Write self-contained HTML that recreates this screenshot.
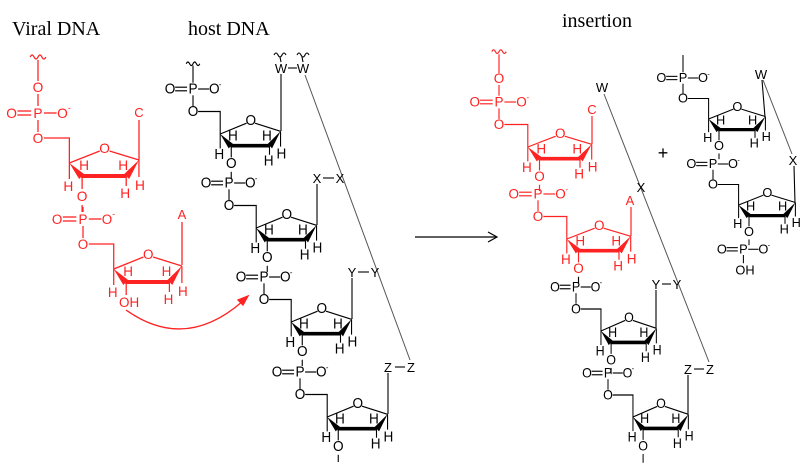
<!DOCTYPE html>
<html><head><meta charset="utf-8"><style>
html,body{margin:0;padding:0;background:#fff;}
svg{display:block;font-family:"Liberation Sans",sans-serif;}
.u text{font-size:14px;text-anchor:middle;}
.u.b text{font-size:16px;}
.u.c text{font-size:15px;}
.u line,.u polyline,.u path{fill:none;stroke-width:1.3;}
.u text.s{font-size:9px;}
.t{font-family:"Liberation Serif",serif;font-size:20px;}
.lab{font-size:13px;text-anchor:middle;}
</style></head><body>
<svg width="800" height="468" viewBox="0 0 800 468">
<text class="t" x="12" y="35">Viral DNA</text>
<text class="t" x="188" y="35">host DNA</text>
<text class="t" x="562" y="27">insertion</text>

<!-- VIRAL 1 -->
<g class="u" transform="translate(38,113) scale(.98,1)" stroke="#f22" fill="#f22">
<path d="M-8,-56 q2,-4 4,0 t4,0 t4,0 t4,0"/>
<line x1="0" y1="-53" x2="0" y2="-32"/><text x="0" y="-21" stroke="none">O</text><line x1="0" y1="-19" x2="0" y2="-7"/>
<line x1="-21" y1="-2" x2="-7" y2="-2"/><line x1="-21" y1="2" x2="-7" y2="2"/><line x1="6" y1="0" x2="19" y2="0"/><line x1="0" y1="7" x2="0" y2="19"/>
<text x="-27" y="5" stroke="none">O</text><text x="0" y="5" stroke="none">P</text><text x="25" y="5" stroke="none">O</text><text class="s" x="32" y="-2" stroke="none">-</text>
<text x="0" y="30" stroke="none">O</text>
<polyline points="6,25 32,25 32,50"/><line x1="32" y1="50" x2="63" y2="38"/><line x1="73" y1="38" x2="103" y2="47"/><text x="68" y="40" stroke="none">O</text>
<polygon points="32,50 47,61 42,66" stroke="none"/><line x1="44" y1="63" x2="90" y2="63" style="stroke-width:4"/><polygon points="103,47 88,61 93,66" stroke="none"/>
<line x1="32" y1="50" x2="32" y2="66"/><line x1="103" y1="47" x2="103" y2="64"/><line x1="90" y1="63" x2="90" y2="73"/><line x1="45" y1="63" x2="45" y2="76"/>
<text x="47" y="57" stroke="none">H</text><text x="31" y="78" stroke="none">H</text><text x="87" y="57" stroke="none">H</text><text x="89" y="85" stroke="none">H</text><text x="104" y="77" stroke="none">H</text><text x="45" y="88" stroke="none">O</text>
<line x1="45" y1="92" x2="45" y2="99"/>
</g>
<!-- VIRAL 2 -->
<g class="u" transform="translate(83,219) scale(.96,1)" stroke="#f22" fill="#f22">
<line x1="0" y1="-12" x2="0" y2="-7"/>
<line x1="-21" y1="-2" x2="-7" y2="-2"/><line x1="-21" y1="2" x2="-7" y2="2"/><line x1="6" y1="0" x2="19" y2="0"/><line x1="0" y1="7" x2="0" y2="19"/>
<text x="-27" y="5" stroke="none">O</text><text x="0" y="5" stroke="none">P</text><text x="25" y="5" stroke="none">O</text><text class="s" x="32" y="-2" stroke="none">-</text>
<text x="0" y="30" stroke="none">O</text>
<polyline points="6,25 32,25 32,50"/><line x1="32" y1="50" x2="63" y2="38"/><line x1="73" y1="38" x2="103" y2="47"/><text x="68" y="40" stroke="none">O</text>
<polygon points="32,50 47,61 42,66" stroke="none"/><line x1="44" y1="63" x2="90" y2="63" style="stroke-width:4"/><polygon points="103,47 88,61 93,66" stroke="none"/>
<line x1="32" y1="50" x2="32" y2="66"/><line x1="103" y1="47" x2="103" y2="64"/><line x1="90" y1="63" x2="90" y2="73"/><line x1="45" y1="63" x2="45" y2="76"/>
<text x="47" y="57" stroke="none">H</text><text x="31" y="78" stroke="none">H</text><text x="87" y="57" stroke="none">H</text><text x="89" y="85" stroke="none">H</text><text x="104" y="77" stroke="none">H</text><text x="48" y="88" stroke="none">OH</text>
</g>
<g stroke="#f22" stroke-width="1.3" fill="#f22">
<line x1="139" y1="160" x2="139" y2="120"/><line x1="182" y1="265" x2="182" y2="222"/>
<path d="M126,310 Q185,352 243,301" fill="none"/>
<polygon points="248,296 238,300 243,305"/>
</g>
<g fill="#f22" class="lab"><text x="139" y="117">C</text><text x="182" y="219">A</text></g>

<!-- HOST -->
<g class="u b" transform="translate(193,89) scale(.85,.9)" stroke="#000" fill="#000">
<path d="M-8,-28 q2,-4 4,0 t4,0 t4,0 t4,0"/><line x1="0" y1="-26" x2="0" y2="-7"/>
<line x1="-21" y1="-2" x2="-7" y2="-2"/><line x1="-21" y1="2" x2="-7" y2="2"/><line x1="6" y1="0" x2="19" y2="0"/><line x1="0" y1="7" x2="0" y2="19"/>
<text x="-27" y="5" stroke="none">O</text><text x="0" y="5" stroke="none">P</text><text x="25" y="5" stroke="none">O</text><text class="s" x="32" y="-2" stroke="none">-</text>
<text x="0" y="30" stroke="none">O</text>
<polyline points="6,25 32,25 32,50"/><line x1="32" y1="50" x2="63" y2="38"/><line x1="73" y1="38" x2="103" y2="47"/><text x="68" y="40" stroke="none">O</text>
<polygon points="32,50 47,61 42,66" stroke="none"/><line x1="44" y1="63" x2="90" y2="63" style="stroke-width:4"/><polygon points="103,47 88,61 93,66" stroke="none"/>
<line x1="32" y1="50" x2="32" y2="66"/><line x1="103" y1="47" x2="103" y2="64"/><line x1="90" y1="63" x2="90" y2="73"/><line x1="45" y1="63" x2="45" y2="76"/>
<text x="47" y="57" stroke="none">H</text><text x="31" y="78" stroke="none">H</text><text x="87" y="57" stroke="none">H</text><text x="89" y="85" stroke="none">H</text><text x="104" y="77" stroke="none">H</text><text x="45" y="88" stroke="none">O</text>
<line x1="45" y1="92" x2="45" y2="99"/>
</g>
<g class="u b" transform="translate(229,183) scale(.85,.9)" stroke="#000" fill="#000">
<line x1="-21" y1="-2" x2="-7" y2="-2"/><line x1="-21" y1="2" x2="-7" y2="2"/><line x1="6" y1="0" x2="19" y2="0"/><line x1="0" y1="7" x2="0" y2="19"/>
<text x="-27" y="5" stroke="none">O</text><text x="0" y="5" stroke="none">P</text><text x="25" y="5" stroke="none">O</text><text class="s" x="32" y="-2" stroke="none">-</text>
<text x="0" y="30" stroke="none">O</text>
<polyline points="6,25 32,25 32,50"/><line x1="32" y1="50" x2="63" y2="38"/><line x1="73" y1="38" x2="103" y2="47"/><text x="68" y="40" stroke="none">O</text>
<polygon points="32,50 47,61 42,66" stroke="none"/><line x1="44" y1="63" x2="90" y2="63" style="stroke-width:4"/><polygon points="103,47 88,61 93,66" stroke="none"/>
<line x1="32" y1="50" x2="32" y2="66"/><line x1="103" y1="47" x2="103" y2="64"/><line x1="90" y1="63" x2="90" y2="73"/><line x1="45" y1="63" x2="45" y2="76"/>
<text x="47" y="57" stroke="none">H</text><text x="31" y="78" stroke="none">H</text><text x="87" y="57" stroke="none">H</text><text x="89" y="85" stroke="none">H</text><text x="104" y="77" stroke="none">H</text><text x="45" y="88" stroke="none">O</text>
<line x1="45" y1="92" x2="45" y2="99"/>
</g>
<g class="u b" transform="translate(264,277) scale(.85,.9)" stroke="#000" fill="#000">
<line x1="-21" y1="-2" x2="-7" y2="-2"/><line x1="-21" y1="2" x2="-7" y2="2"/><line x1="6" y1="0" x2="19" y2="0"/><line x1="0" y1="7" x2="0" y2="19"/>
<text x="-27" y="5" stroke="none">O</text><text x="0" y="5" stroke="none">P</text><text x="25" y="5" stroke="none">O</text><text class="s" x="32" y="-2" stroke="none">-</text>
<text x="0" y="30" stroke="none">O</text>
<polyline points="6,25 32,25 32,50"/><line x1="32" y1="50" x2="63" y2="38"/><line x1="73" y1="38" x2="103" y2="47"/><text x="68" y="40" stroke="none">O</text>
<polygon points="32,50 47,61 42,66" stroke="none"/><line x1="44" y1="63" x2="90" y2="63" style="stroke-width:4"/><polygon points="103,47 88,61 93,66" stroke="none"/>
<line x1="32" y1="50" x2="32" y2="66"/><line x1="103" y1="47" x2="103" y2="64"/><line x1="90" y1="63" x2="90" y2="73"/><line x1="45" y1="63" x2="45" y2="76"/>
<text x="47" y="57" stroke="none">H</text><text x="31" y="78" stroke="none">H</text><text x="87" y="57" stroke="none">H</text><text x="89" y="85" stroke="none">H</text><text x="104" y="77" stroke="none">H</text><text x="45" y="88" stroke="none">O</text>
<line x1="45" y1="92" x2="45" y2="99"/>
</g>
<g class="u b" transform="translate(300,372) scale(.85,.9)" stroke="#000" fill="#000">
<line x1="-21" y1="-2" x2="-7" y2="-2"/><line x1="-21" y1="2" x2="-7" y2="2"/><line x1="6" y1="0" x2="19" y2="0"/><line x1="0" y1="7" x2="0" y2="19"/>
<text x="-27" y="5" stroke="none">O</text><text x="0" y="5" stroke="none">P</text><text x="25" y="5" stroke="none">O</text><text class="s" x="32" y="-2" stroke="none">-</text>
<text x="0" y="30" stroke="none">O</text>
<polyline points="6,25 32,25 32,50"/><line x1="32" y1="50" x2="63" y2="38"/><line x1="73" y1="38" x2="103" y2="47"/><text x="68" y="40" stroke="none">O</text>
<polygon points="32,50 47,61 42,66" stroke="none"/><line x1="44" y1="63" x2="90" y2="63" style="stroke-width:4"/><polygon points="103,47 88,61 93,66" stroke="none"/>
<line x1="32" y1="50" x2="32" y2="66"/><line x1="103" y1="47" x2="103" y2="64"/><line x1="90" y1="63" x2="90" y2="73"/><line x1="45" y1="63" x2="45" y2="76"/>
<text x="47" y="57" stroke="none">H</text><text x="31" y="78" stroke="none">H</text><text x="87" y="57" stroke="none">H</text><text x="89" y="85" stroke="none">H</text><text x="104" y="77" stroke="none">H</text><text x="45" y="88" stroke="none">O</text>
<line x1="45" y1="92" x2="45" y2="100"/>
</g>
<g stroke="#000" stroke-width="1.1" fill="none">
<line x1="281" y1="131" x2="281" y2="74"/><line x1="317" y1="225" x2="317" y2="184"/><line x1="352" y1="319" x2="352" y2="278"/><line x1="388" y1="414" x2="388" y2="373"/>
<line x1="288" y1="68" x2="297" y2="68"/><line x1="323" y1="178" x2="334" y2="178"/><line x1="358" y1="272" x2="369" y2="272"/><line x1="395" y1="367" x2="405" y2="367"/>
<path d="M274,55 q2,-4 4,0 t4,0 t4,0"/><path d="M297,55 q2,-4 4,0 t4,0 t4,0"/>
<line x1="280" y1="57" x2="281" y2="62"/><line x1="302" y1="57" x2="303" y2="62"/>
<line x1="305" y1="75" x2="410" y2="360" stroke="#555" stroke-width="1"/>
</g>
<g class="lab" fill="#000">
<text x="281" y="73">W</text><text x="303" y="73">W</text>
<text x="317" y="183">X</text><text x="340" y="183">X</text>
<text x="352" y="277">Y</text><text x="375" y="277">Y</text>
<text x="388" y="372">Z</text><text x="411" y="372">Z</text>
</g>

<line x1="415" y1="237" x2="496" y2="237" stroke="#000" stroke-width="1.2"/>
<polyline points="488,232 497,237 488,242" fill="none" stroke="#000" stroke-width="1.2"/>

<!-- RIGHT red -->
<g class="u c" transform="translate(499,102) scale(.9,.9)" stroke="#f22" fill="#f22">
<path d="M-8,-56 q2,-4 4,0 t4,0 t4,0 t4,0"/>
<line x1="0" y1="-53" x2="0" y2="-32"/><text x="0" y="-21" stroke="none">O</text><line x1="0" y1="-19" x2="0" y2="-7"/>
<line x1="-21" y1="-2" x2="-7" y2="-2"/><line x1="-21" y1="2" x2="-7" y2="2"/><line x1="6" y1="0" x2="19" y2="0"/><line x1="0" y1="7" x2="0" y2="19"/>
<text x="-27" y="5" stroke="none">O</text><text x="0" y="5" stroke="none">P</text><text x="25" y="5" stroke="none">O</text><text class="s" x="32" y="-2" stroke="none">-</text>
<text x="0" y="30" stroke="none">O</text>
<polyline points="6,25 32,25 32,50"/><line x1="32" y1="50" x2="63" y2="38"/><line x1="73" y1="38" x2="103" y2="47"/><text x="68" y="40" stroke="none">O</text>
<polygon points="32,50 47,61 42,66" stroke="none"/><line x1="44" y1="63" x2="90" y2="63" style="stroke-width:4"/><polygon points="103,47 88,61 93,66" stroke="none"/>
<line x1="32" y1="50" x2="32" y2="66"/><line x1="103" y1="47" x2="103" y2="64"/><line x1="90" y1="63" x2="90" y2="73"/><line x1="45" y1="63" x2="45" y2="76"/>
<text x="47" y="57" stroke="none">H</text><text x="31" y="78" stroke="none">H</text><text x="87" y="57" stroke="none">H</text><text x="89" y="85" stroke="none">H</text><text x="104" y="77" stroke="none">H</text><text x="45" y="88" stroke="none">O</text>
<line x1="45" y1="92" x2="45" y2="99"/>
</g>
<g class="u c" transform="translate(538,194) scale(.9,.9)" stroke="#f22" fill="#f22">
<line x1="-21" y1="-2" x2="-7" y2="-2"/><line x1="-21" y1="2" x2="-7" y2="2"/><line x1="6" y1="0" x2="19" y2="0"/><line x1="0" y1="7" x2="0" y2="19"/>
<text x="-27" y="5" stroke="none">O</text><text x="0" y="5" stroke="none">P</text><text x="25" y="5" stroke="none">O</text><text class="s" x="32" y="-2" stroke="none">-</text>
<text x="0" y="30" stroke="none">O</text>
<polyline points="6,25 32,25 32,50"/><line x1="32" y1="50" x2="63" y2="38"/><line x1="73" y1="38" x2="103" y2="47"/><text x="68" y="40" stroke="none">O</text>
<polygon points="32,50 47,61 42,66" stroke="none"/><line x1="44" y1="63" x2="90" y2="63" style="stroke-width:4"/><polygon points="103,47 88,61 93,66" stroke="none"/>
<line x1="32" y1="50" x2="32" y2="66"/><line x1="103" y1="47" x2="103" y2="64"/><line x1="90" y1="63" x2="90" y2="73"/><line x1="45" y1="63" x2="45" y2="76"/>
<text x="47" y="57" stroke="none">H</text><text x="31" y="78" stroke="none">H</text><text x="87" y="57" stroke="none">H</text><text x="89" y="85" stroke="none">H</text><text x="104" y="77" stroke="none">H</text><text x="45" y="88" stroke="none">O</text>
<line x1="45" y1="92" x2="45" y2="99" stroke="#000"/>
</g>
<g class="u b" transform="translate(576,287) scale(.78,.88)" stroke="#000" fill="#000">
<line x1="-21" y1="-2" x2="-7" y2="-2"/><line x1="-21" y1="2" x2="-7" y2="2"/><line x1="6" y1="0" x2="19" y2="0"/><line x1="0" y1="7" x2="0" y2="19"/>
<text x="-27" y="5" stroke="none">O</text><text x="0" y="5" stroke="none">P</text><text x="25" y="5" stroke="none">O</text><text class="s" x="32" y="-2" stroke="none">-</text>
<text x="0" y="30" stroke="none">O</text>
<polyline points="6,25 32,25 32,50"/><line x1="32" y1="50" x2="63" y2="38"/><line x1="73" y1="38" x2="103" y2="47"/><text x="68" y="40" stroke="none">O</text>
<polygon points="32,50 47,61 42,66" stroke="none"/><line x1="44" y1="63" x2="90" y2="63" style="stroke-width:4"/><polygon points="103,47 88,61 93,66" stroke="none"/>
<line x1="32" y1="50" x2="32" y2="66"/><line x1="103" y1="47" x2="103" y2="64"/><line x1="90" y1="63" x2="90" y2="73"/><line x1="45" y1="63" x2="45" y2="76"/>
<text x="47" y="57" stroke="none">H</text><text x="31" y="78" stroke="none">H</text><text x="87" y="57" stroke="none">H</text><text x="89" y="85" stroke="none">H</text><text x="104" y="77" stroke="none">H</text><text x="45" y="88" stroke="none">O</text>
<line x1="45" y1="92" x2="45" y2="99"/>
</g>
<g class="u b" transform="translate(608,373) scale(.78,.88)" stroke="#000" fill="#000">
<line x1="-21" y1="-2" x2="-7" y2="-2"/><line x1="-21" y1="2" x2="-7" y2="2"/><line x1="6" y1="0" x2="19" y2="0"/><line x1="0" y1="7" x2="0" y2="19"/>
<text x="-27" y="5" stroke="none">O</text><text x="0" y="5" stroke="none">P</text><text x="25" y="5" stroke="none">O</text><text class="s" x="32" y="-2" stroke="none">-</text>
<text x="0" y="30" stroke="none">O</text>
<polyline points="6,25 32,25 32,50"/><line x1="32" y1="50" x2="63" y2="38"/><line x1="73" y1="38" x2="103" y2="47"/><text x="68" y="40" stroke="none">O</text>
<polygon points="32,50 47,61 42,66" stroke="none"/><line x1="44" y1="63" x2="90" y2="63" style="stroke-width:4"/><polygon points="103,47 88,61 93,66" stroke="none"/>
<line x1="32" y1="50" x2="32" y2="66"/><line x1="103" y1="47" x2="103" y2="64"/><line x1="90" y1="63" x2="90" y2="73"/><line x1="45" y1="63" x2="45" y2="76"/>
<text x="47" y="57" stroke="none">H</text><text x="31" y="78" stroke="none">H</text><text x="87" y="57" stroke="none">H</text><text x="89" y="85" stroke="none">H</text><text x="104" y="77" stroke="none">H</text><text x="45" y="88" stroke="none">O</text>
<line x1="45" y1="92" x2="45" y2="102"/>
</g>
<!-- small right piece -->
<g class="u b" transform="translate(683,78) scale(.8,.82)" stroke="#000" fill="#000">
<line x1="0" y1="-28" x2="0" y2="-7"/>
<line x1="-21" y1="-2" x2="-7" y2="-2"/><line x1="-21" y1="2" x2="-7" y2="2"/><line x1="6" y1="0" x2="19" y2="0"/><line x1="0" y1="7" x2="0" y2="19"/>
<text x="-27" y="5" stroke="none">O</text><text x="0" y="5" stroke="none">P</text><text x="25" y="5" stroke="none">O</text><text class="s" x="32" y="-2" stroke="none">-</text>
<text x="0" y="30" stroke="none">O</text>
<polyline points="6,25 32,25 32,50"/><line x1="32" y1="50" x2="63" y2="38"/><line x1="73" y1="38" x2="103" y2="47"/><text x="68" y="40" stroke="none">O</text>
<polygon points="32,50 47,61 42,66" stroke="none"/><line x1="44" y1="63" x2="90" y2="63" style="stroke-width:4"/><polygon points="103,47 88,61 93,66" stroke="none"/>
<line x1="32" y1="50" x2="32" y2="66"/><line x1="103" y1="47" x2="103" y2="64"/><line x1="90" y1="63" x2="90" y2="73"/><line x1="45" y1="63" x2="45" y2="76"/>
<text x="47" y="57" stroke="none">H</text><text x="31" y="78" stroke="none">H</text><text x="87" y="57" stroke="none">H</text><text x="89" y="85" stroke="none">H</text><text x="104" y="77" stroke="none">H</text><text x="45" y="88" stroke="none">O</text>
<line x1="45" y1="92" x2="45" y2="99"/>
</g>
<g class="u b" transform="translate(713,164) scale(.8,.82)" stroke="#000" fill="#000">
<line x1="-21" y1="-2" x2="-7" y2="-2"/><line x1="-21" y1="2" x2="-7" y2="2"/><line x1="6" y1="0" x2="19" y2="0"/><line x1="0" y1="7" x2="0" y2="19"/>
<text x="-27" y="5" stroke="none">O</text><text x="0" y="5" stroke="none">P</text><text x="25" y="5" stroke="none">O</text><text class="s" x="32" y="-2" stroke="none">-</text>
<text x="0" y="30" stroke="none">O</text>
<polyline points="6,25 32,25 32,50"/><line x1="32" y1="50" x2="63" y2="38"/><line x1="73" y1="38" x2="103" y2="47"/><text x="68" y="40" stroke="none">O</text>
<polygon points="32,50 47,61 42,66" stroke="none"/><line x1="44" y1="63" x2="90" y2="63" style="stroke-width:4"/><polygon points="103,47 88,61 93,66" stroke="none"/>
<line x1="32" y1="50" x2="32" y2="66"/><line x1="103" y1="47" x2="103" y2="64"/><line x1="90" y1="63" x2="90" y2="73"/><line x1="45" y1="63" x2="45" y2="76"/>
<text x="47" y="57" stroke="none">H</text><text x="31" y="78" stroke="none">H</text><text x="87" y="57" stroke="none">H</text><text x="89" y="85" stroke="none">H</text><text x="104" y="77" stroke="none">H</text><text x="45" y="88" stroke="none">O</text>
<line x1="45" y1="92" x2="45" y2="99"/>
<g transform="translate(38,104)">
<line x1="-21" y1="-2" x2="-7" y2="-2"/><line x1="-21" y1="2" x2="-7" y2="2"/><line x1="6" y1="0" x2="19" y2="0"/><line x1="0" y1="7" x2="0" y2="17"/>
<text x="-27" y="5" stroke="none">O</text><text x="0" y="5" stroke="none">P</text><text x="25" y="5" stroke="none">O</text><text class="s" x="32" y="-2" stroke="none">-</text>
<text x="2" y="31" stroke="none">OH</text>
</g>
</g>
<g stroke="#f22" stroke-width="1.2"><line x1="592" y1="144" x2="592" y2="116"/><line x1="631" y1="236" x2="631" y2="207"/></g>
<g class="lab" fill="#f22"><text x="592" y="114">C</text><text x="630" y="205">A</text></g>
<g stroke="#000" stroke-width="1.1" fill="none">
<line x1="656" y1="328" x2="656" y2="290"/><line x1="688" y1="414" x2="688" y2="375"/>
<line x1="662" y1="284" x2="671" y2="284"/><line x1="694" y1="369" x2="704" y2="369"/>
<line x1="765" y1="117" x2="762" y2="80"/><line x1="795" y1="203" x2="794" y2="166"/>
<line x1="604" y1="94" x2="709" y2="362" stroke="#555" stroke-width="1"/>
<line x1="763" y1="80" x2="792" y2="154" stroke="#555" stroke-width="1"/>
</g>
<g class="lab" fill="#000">
<text x="602" y="92">W</text><text x="641" y="192">X</text>
<text x="656" y="289">Y</text><text x="677" y="289">Y</text>
<text x="688" y="374">Z</text><text x="710" y="374">Z</text>
<text x="761" y="79">W</text><text x="793" y="165">X</text>
<text x="663" y="159" style="font-size:18px">+</text>
</g>
</svg>
</body></html>
